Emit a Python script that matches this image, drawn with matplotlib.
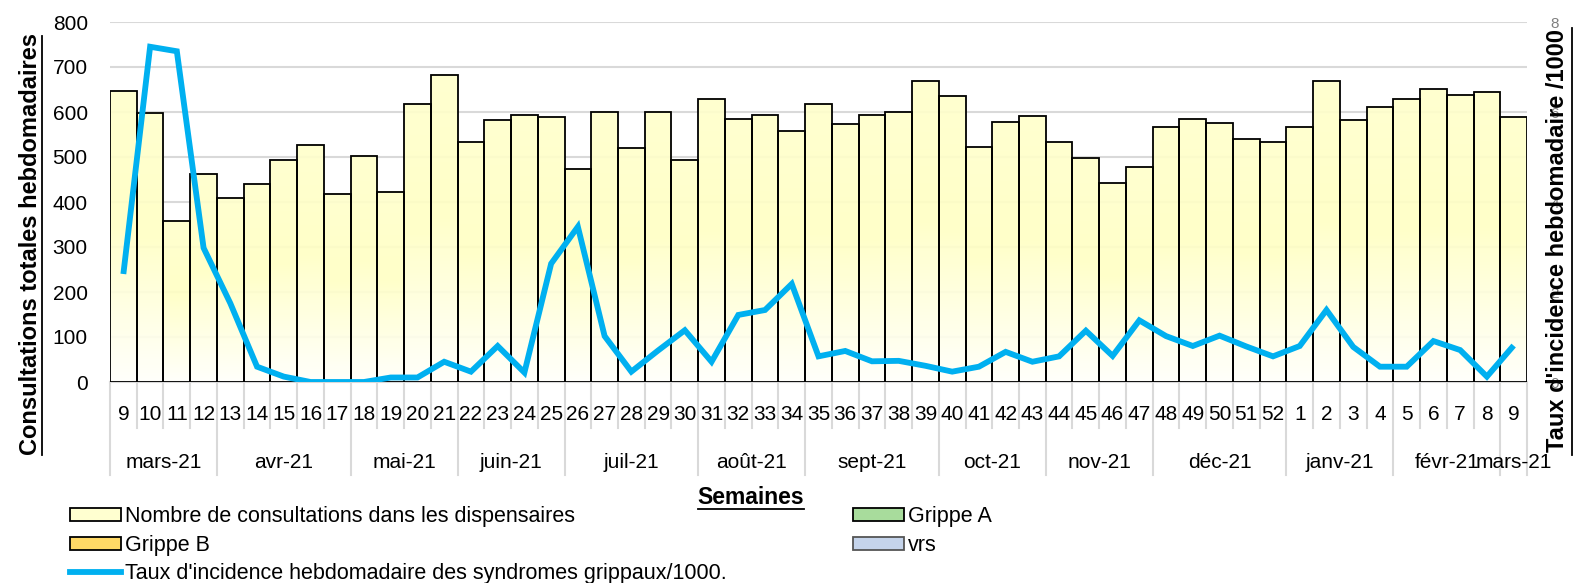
import matplotlib
matplotlib.use("Agg")
import matplotlib.pyplot as plt
import matplotlib.transforms as mtransforms
from matplotlib.patches import Patch
from matplotlib.lines import Line2D
from matplotlib.colors import LinearSegmentedColormap
import numpy as np

plt.rcParams['font.family'] = ['Liberation Sans', 'DejaVu Sans']

# ---------------- data ----------------
weeks = [9, 10, 11, 12, 13, 14, 15, 16, 17, 18, 19, 20, 21, 22, 23, 24, 25, 26,
         27, 28, 29, 30, 31, 32, 33, 34, 35, 36, 37, 38, 39, 40, 41, 42, 43, 44,
         45, 46, 47, 48, 49, 50, 51, 52, 1, 2, 3, 4, 5, 6, 7, 8, 9]
months = ["mars-21", "avr-21", "mai-21", "juin-21", "juil-21", "août-21",
          "sept-21", "oct-21", "nov-21", "déc-21", "janv-21", "févr-21", "mars-21"]
weeks_per_month = [4, 5, 4, 4, 5, 4, 5, 4, 4, 5, 4, 4, 1]
consultations = [647, 598, 358, 463, 410, 441, 493, 527, 418, 503, 423, 618, 683,
                 533, 582, 593, 589, 474, 601, 521, 601, 494, 629, 584, 593, 557,
                 618, 573, 594, 599, 669, 636, 522, 578, 592, 533, 498, 442, 478,
                 567, 585, 575, 540, 533, 567, 669, 583, 612, 629, 651, 638, 645, 589]
incidence = [2.40, 7.45, 7.35, 2.98, 1.75, 0.34, 0.12, 0.0, 0.0, 0.0, 0.10, 0.10,
             0.45, 0.23, 0.80, 0.21, 2.63, 3.45, 1.02, 0.23, 0.70, 1.15, 0.45,
             1.49, 1.60, 2.18, 0.57, 0.69, 0.46, 0.47, 0.36, 0.23, 0.34, 0.67,
             0.45, 0.57, 1.14, 0.58, 1.37, 1.02, 0.80, 1.03, 0.79, 0.57, 0.80,
             1.60, 0.78, 0.34, 0.34, 0.91, 0.71, 0.12, 0.81]
left_ticks = [0, 100, 200, 300, 400, 500, 600, 700, 800]
right_ticks = [0, 2, 4, 6, 8]

label_bars = "Nombre de consultations dans les dispensaires"
label_a = "Grippe A"
label_b = "Grippe B"
label_vrs = "vrs"
label_line = "Taux d'incidence hebdomadaire des syndromes grippaux/1000."

# ---------------- figure ----------------
W, H = 1577, 583
fig = plt.figure(figsize=(W / 100, H / 100), dpi=100)
ax_left, ax_right, ax_top, ax_bot = 110, 1527, 22, 382
ax = fig.add_axes([ax_left / W, 1 - ax_bot / H, (ax_right - ax_left) / W,
                   (ax_bot - ax_top) / H])

x = np.arange(len(weeks))
grid_c = '#D9D9D9'

ax.set_axisbelow(True)
ax.yaxis.grid(True, color=grid_c, lw=1.5, zorder=0)

bars = ax.bar(x, consultations, width=1.0, facecolor='none', edgecolor='black',
              linewidth=1.3, zorder=3)

cmap = LinearSegmentedColormap.from_list(
    'yel', [(0.0, '#FFFFFB'), (0.55, '#FFFFC4'), (1.0, '#FFFFCC')])
grad = np.linspace(0, 1, 128).reshape(-1, 1)
for b in bars:
    x0, y0 = b.get_x(), b.get_y()
    w, h = b.get_width(), b.get_height()
    ax.imshow(grad, cmap=cmap, origin='lower', aspect='auto',
              extent=(x0, x0 + w, y0, y0 + h), zorder=2, alpha=0.92,
              interpolation='bilinear')

ax.set_xlim(-0.5, len(weeks) - 0.5)
ax.set_ylim(left_ticks[0], left_ticks[-1])
ax.set_yticks(left_ticks)
ax.tick_params(axis='y', length=0, pad=16, labelsize=15, labelcolor='black')
ax.set_xticks([])
for s in ['top', 'left', 'right']:
    ax.spines[s].set_visible(False)
ax.spines['bottom'].set_color(grid_c)
ax.spines['bottom'].set_linewidth(1.5)

# category axis (weeks + months)
axh = ax_bot - ax_top
trans = mtransforms.blended_transform_factory(ax.transData, ax.transAxes)
y_week = -(415 - ax_bot) / axh
y_week_sep = -(428 - ax_bot) / axh
y_month = -(462 - ax_bot) / axh
y_month_sep = -(475 - ax_bot) / axh

for i, wk in enumerate(weeks):
    ax.text(i, y_week, str(wk), transform=trans, ha='center', va='center',
            fontsize=15, clip_on=False)

month_bounds = np.concatenate([[0], np.cumsum(weeks_per_month)])
for i in range(len(weeks) + 1):
    edge = i - 0.5
    ybot = y_month_sep if i in month_bounds else y_week_sep
    ax.plot([edge, edge], [0, ybot], transform=trans, color=grid_c, lw=1.5,
            clip_on=False, zorder=1)
for m, a, b in zip(months, month_bounds[:-1], month_bounds[1:]):
    ax.text((a + b - 1) / 2, y_month, m, transform=trans, ha='center',
            va='center', fontsize=15, clip_on=False)

# secondary axis
ax2 = ax.twinx()
ax2.plot(x, incidence, color='#00B0F0', lw=4.2, solid_joinstyle='miter',
         solid_capstyle='butt', zorder=5)
ax2.set_ylim(right_ticks[0], right_ticks[-1])
ax2.set_yticks(right_ticks)
ax2.tick_params(axis='y', length=0, pad=17, labelsize=11, labelcolor='#7F7F7F')
for s in ax2.spines.values():
    s.set_visible(False)

# axis titles with underline
fig.text(31 / W, 1 - 244 / H, "Consultations totales hebdomadaires",
         rotation=90, ha='center', va='center', fontsize=17,
         fontweight='bold')
fig.add_artist(Line2D([42 / W, 42 / W], [1 - 455 / H, 1 - 36 / H],
                      color='black', lw=1.3, transform=fig.transFigure))
fig.text(1557 / W, 1 - 241 / H, "Taux d'incidence hebdomadaire /1000",
         rotation=90, ha='center', va='center', fontsize=17,
         fontweight='bold')
fig.add_artist(Line2D([1572 / W, 1572 / W], [1 - 455 / H, 1 - 28 / H],
                      color='black', lw=1.3, transform=fig.transFigure))
fig.text(751 / W, 1 - 497 / H, "Semaines", ha='center', va='center',
         fontsize=16.5, fontweight='bold')
fig.add_artist(Line2D([698 / W, 804 / W], [1 - 509 / H, 1 - 509 / H],
                      color='black', lw=1.3, transform=fig.transFigure))

# legends
h_bars = Patch(facecolor='#FFFFD0', edgecolor='black', lw=1.3)
h_a = Patch(facecolor='#A8DC9C', edgecolor='black', lw=1.3)
h_b = Patch(facecolor='#FFD966', edgecolor='black', lw=1.3)
h_vrs = Patch(facecolor='#C5D4EB', edgecolor='#555555', lw=1.3)
h_line = Line2D([], [], color='#00B0F0', lw=4.2)

common = dict(frameon=False, fontsize=15.5, borderpad=0, borderaxespad=0,
              handlelength=2.35, handleheight=0.55, handletextpad=0.2,
              labelspacing=0.36, loc='upper left')
fig.legend([h_bars, h_b, h_line], [label_bars, label_b, label_line],
           bbox_to_anchor=(70 / W, 1 - 506 / H), **common)
fig.legend([h_a, h_vrs], [label_a, label_vrs],
           bbox_to_anchor=(853 / W, 1 - 506 / H), **common)

fig.savefig('out.png', dpi=100)
